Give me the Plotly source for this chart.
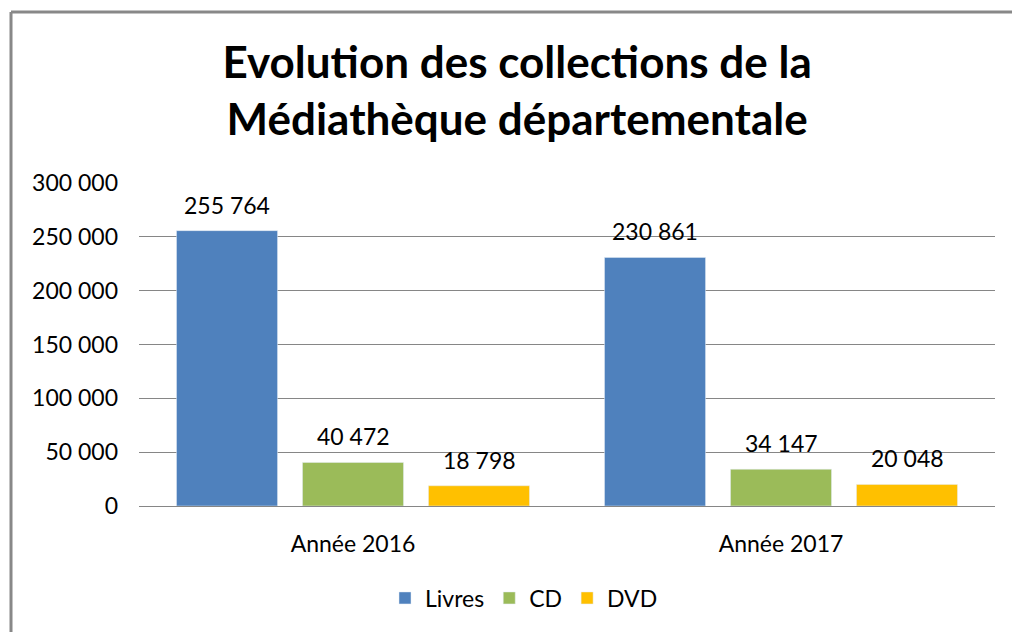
import plotly.graph_objects as go

categories = ["Année 2016", "Année 2017"]
livres = [255764, 230861]
cd = [40472, 34147]
dvd = [18798, 20048]
series_names = ["Livres", "CD", "DVD"]
colors = ["#4F81BD", "#9BBB59", "#FFC000"]
y_ticks = [0, 50000, 100000, 150000, 200000, 250000, 300000]

FONT = "Lato, Calibri, sans-serif"

L, R, T, B = 139, 17, 183, 126
W, H = 1012, 632
pw, ph = W - L - R, H - T - B

def px_x(p):
    return (p - L) / pw

def px_y(p):
    return (H - B - p) / ph

fig = go.Figure()
series = [livres, cd, dvd]
slot_px = 126
for i, (name, vals, col) in enumerate(zip(series_names, series, colors)):
    fig.add_trace(go.Bar(
        name=name, x=categories, y=vals, marker_color=col,
    ))
    for cat, v in zip(categories, vals):
        fig.add_annotation(
            x=cat, y=v, xref="x", yref="y",
            text=f"{v:,}".replace(",", " "),
            showarrow=False, xshift=(i - 1) * slot_px, yshift=26,
            yanchor="middle", xanchor="center",
            font=dict(size=23, color="#000000", family=FONT),
        )

fig.update_layout(
    width=W, height=H,
    margin=dict(l=L, r=R, t=T, b=B),
    paper_bgcolor="white", plot_bgcolor="white",
    separators=", ",
    font=dict(family=FONT, size=23, color="#000000"),
    barmode="group", bargap=0.117, bargroupgap=0.198,
    title=dict(
        text="<b>Evolution des collections de la<br>Médiathèque départementale</b>",
        x=0.511, xanchor="center", yref="container", y=1 - 78 / H, yanchor="top",
        font=dict(size=44, family=FONT, color="#000000"),
    ),
    xaxis=dict(showline=False, ticks="", tickfont=dict(size=23), ticklabelstandoff=22),
    yaxis=dict(
        range=[0, 300000], tickvals=y_ticks, tickformat=",",
        showgrid=True, gridcolor="#868686", gridwidth=1,
        zeroline=True, zerolinecolor="#868686", zerolinewidth=1,
        showline=False, ticks="", tickfont=dict(size=23), ticklabelstandoff=20,
    ),
    legend=dict(
        orientation="h", x=px_x(524), xanchor="center", y=px_y(598), yanchor="middle",
        font=dict(size=23), traceorder="normal",
    ),
    showlegend=True,
    shapes=[
        dict(type="line", xref="paper", yref="paper", x0=px_x(11), x1=px_x(11),
             y0=px_y(12), y1=px_y(640), line=dict(color="#888888", width=3)),
        dict(type="line", xref="paper", yref="paper", x0=px_x(11), x1=px_x(1020),
             y0=px_y(12), y1=px_y(12), line=dict(color="#888888", width=3)),
    ],
)

fig.write_html(
    "out.html",
    config={"displayModeBar": False},
    post_script="document.body.style.margin='0';document.body.style.overflow='hidden';",
)
